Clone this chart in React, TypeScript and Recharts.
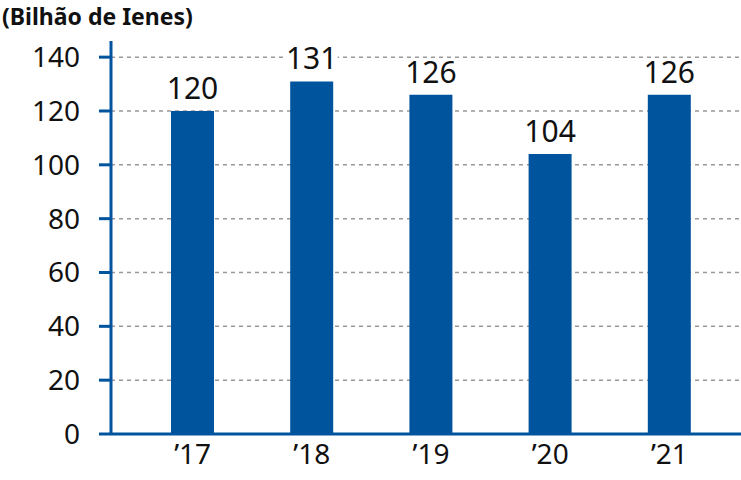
import React from "react";
import { BarChart, Bar, XAxis, YAxis, CartesianGrid, LabelList } from "recharts";

// Valores (bilhão de ienes)
const years = ["’17", "’18", "’19", "’20", "’21"];
const values = [120, 131, 126, 104, 126];
const yTicks = [0, 20, 40, 60, 80, 100, 120, 140];
const Y_MAX = 146; // axis line runs a little above the 140 grid line

const BLUE = "#00549E";
const FONT = "'Noto Sans', sans-serif";

const data = years.map((name, i) => ({ name, value: values[i] }));

// value label above each bar, with a white backing that interrupts the grid line
function ValueLabel(props: any) {
  const { x, y, width, value } = props;
  const cx = x + width / 2;
  const base = y - 12;
  return (
    <g>
      <rect x={cx - 26} y={base - 24} width={52} height={24} fill="#fff" />
      <text x={cx} y={base} textAnchor="middle" fontSize={30} fill="#111" fontFamily={FONT}>{value}</text>
    </g>
  );
}

// grid lines only at the tick values (no line at the top edge of the plot)
function gridRows(p: any) {
  const s = p?.yAxis?.scale;
  const map = (t: number) => {
    if (typeof s === "function") return s(t);
    if (s && typeof s.map === "function") return s.map(t);
    return p.offset.top + p.offset.height * (1 - t / Y_MAX);
  };
  return yTicks.slice(1).map(map);
}

export default function App() {
  return (
    <div style={{ position: "absolute", left: 0, top: 0, width: 741, height: 480, fontFamily: FONT, background: "#fff" }}>
      <div style={{ position: "absolute", left: 2, top: 0, fontSize: 23, fontWeight: 700, color: "#111" }}>
        (Bilhão de Ienes)
      </div>
      <BarChart width={741} height={480} data={data} margin={{ top: 41, right: 0, bottom: 0, left: 0 }}>
        <CartesianGrid vertical={false} stroke="#999" strokeDasharray="4 4" strokeWidth={1.5}
          horizontalCoordinatesGenerator={gridRows} />
        <XAxis dataKey="name" height={46} axisLine={{ stroke: BLUE, strokeWidth: 3 }} tickLine={false}
          tickSize={0} tickMargin={10} padding={{ left: 22, right: 12 }} interval={0}
          tick={{ fontSize: 28, fill: "#111", fontFamily: FONT }} />
        <YAxis domain={[0, Y_MAX]} ticks={yTicks} width={111} axisLine={{ stroke: BLUE, strokeWidth: 3 }}
          tickLine={{ stroke: BLUE, strokeWidth: 3 }} tickSize={12} tickMargin={19}
          tick={{ fontSize: 28, fill: "#111", fontFamily: FONT }} />
        <Bar dataKey="value" fill={BLUE} barSize={43} isAnimationActive={false}>
          <LabelList dataKey="value" content={ValueLabel} />
        </Bar>
      </BarChart>
    </div>
  );
}
